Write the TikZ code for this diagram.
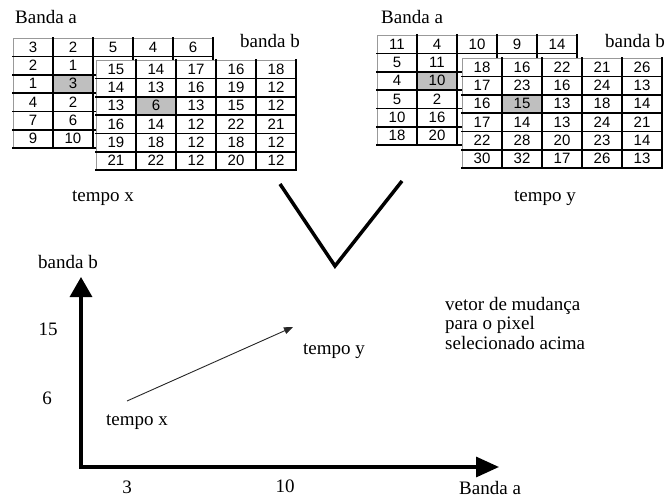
\documentclass[tikz,border=0pt]{standalone}
\usepackage{fontspec}
\setmainfont{Liberation Serif}
\newfontfamily\numfont{Liberation Sans}
\usetikzlibrary{arrows.meta}
\newcommand\drawbandtable[4]{%
  \foreach \rowvals [count=\r] in {#4} {
    \foreach \v [count=\c] in \rowvals {
      \def\cellfill{white}
      \ifnum\r=3 \ifnum\c=2 \def\cellfill{black!25}\fi\fi
      \node[cellbox, fill=\cellfill] (#1-\r-\c) at ({#2+(\c-0.5)*40},{#3+(\r-0.5)*18.3}) {\v};
    }
  }
  \foreach \r in {1,...,6} {
    \foreach \c in {1,...,5} {
      \draw[cellrule] (#1-\r-\c.north east) -- (#1-\r-\c.south east) -- (#1-\r-\c.south west);
    }
  }
}
\begin{document}
\begin{tikzpicture}[x=1pt,y=-1pt,
  cellbox/.style={rectangle, draw=black!40, line width=0.6pt, minimum width=40pt,
    minimum height=18.3pt, inner sep=0pt, font=\numfont\fontsize{15}{15}\selectfont},
  cellrule/.style={line width=1.7pt, line cap=rect},
  lbl/.style={inner sep=0pt, anchor=base west, font=\fontsize{19}{20}\selectfont},
  clbl/.style={inner sep=0pt, anchor=base, font=\fontsize{19}{20}\selectfont},
  axis/.style={line width=3.3pt, line join=miter},
  vee/.style={line width=3.5pt},
  vec/.style={line width=0.9pt, black!85, -{Triangle[length=9pt,width=7pt]}}]
\useasboundingbox (0,0) rectangle (669,497);
\fill[white] (0,0) rectangle (669,497);

% ---- time x ----
\node[lbl] (bandaAx) at (15,24) {Banda a};
\node[lbl] (bandaBx) at (240,48) {banda b};
\drawbandtable{ax}{13}{38}{{3,2,5,4,6},{2,1,{},{},{}},{1,3,{},{},{}},{4,2,{},{},{}},{7,6,{},{},{}},{9,10,{},{},{}}}
\drawbandtable{bx}{96}{60}{{15,14,17,16,18},{14,13,16,19,12},{13,6,13,15,12},{16,14,12,22,21},{19,18,12,18,12},{21,22,12,20,12}}
\node[lbl] (tempox) at (72,202) {tempo x};

% ---- time y ----
\node[lbl] (bandaAy) at (381,24) {Banda a};
\node[lbl] (bandaBy) at (605,48) {banda b};
\drawbandtable{ay}{377}{35}{{11,4,10,9,14},{5,11,{},{},{}},{4,10,{},{},{}},{5,2,{},{},{}},{10,16,{},{},{}},{18,20,{},{},{}}}
\drawbandtable{by}{462}{58}{{18,16,22,21,26},{17,23,16,24,13},{16,15,13,18,14},{17,14,13,24,21},{22,28,20,23,14},{30,32,17,26,13}}
\node[lbl] (tempoy) at (514,202) {tempo y};

% ---- V ----
\coordinate (v1) at (280,184);
\coordinate (v2) at (335,266);
\coordinate (v3) at (402,181);
\draw[vee] (v1) -- (v2) -- (v3);

% ---- graph ----
\coordinate (origin) at (81,467);
\coordinate (ytip) at (81,277);
\coordinate (xtip) at (499,467);
\draw[axis, {Triangle[length=20pt,width=22pt]}-{Triangle[length=23pt,width=20pt]}] (ytip) -- (origin) -- (xtip);
\node[lbl] (axb) at (38,268) {banda b};
\node[clbl] (y15) at (48,335) {15};
\node[clbl] (y6) at (47,404) {6};
\node[clbl] (x3) at (127,493) {3};
\node[clbl] (x10) at (285,492) {10};
\node[lbl] (axa) at (459,494) {Banda a};

\coordinate (px) at (127,401);
\coordinate (py) at (293,327);
\draw[vec] (px) -- (py);
\node[lbl] (ptx) at (106,425) {tempo x};
\node[lbl] (pty) at (303,354) {tempo y};

\node[lbl, align=left, anchor=north west, font=\fontsize{19}{19.5}\selectfont] (note) at (445,297)
  {vetor de mudança\\para o pixel\\selecionado acima};
\end{tikzpicture}
\end{document}
